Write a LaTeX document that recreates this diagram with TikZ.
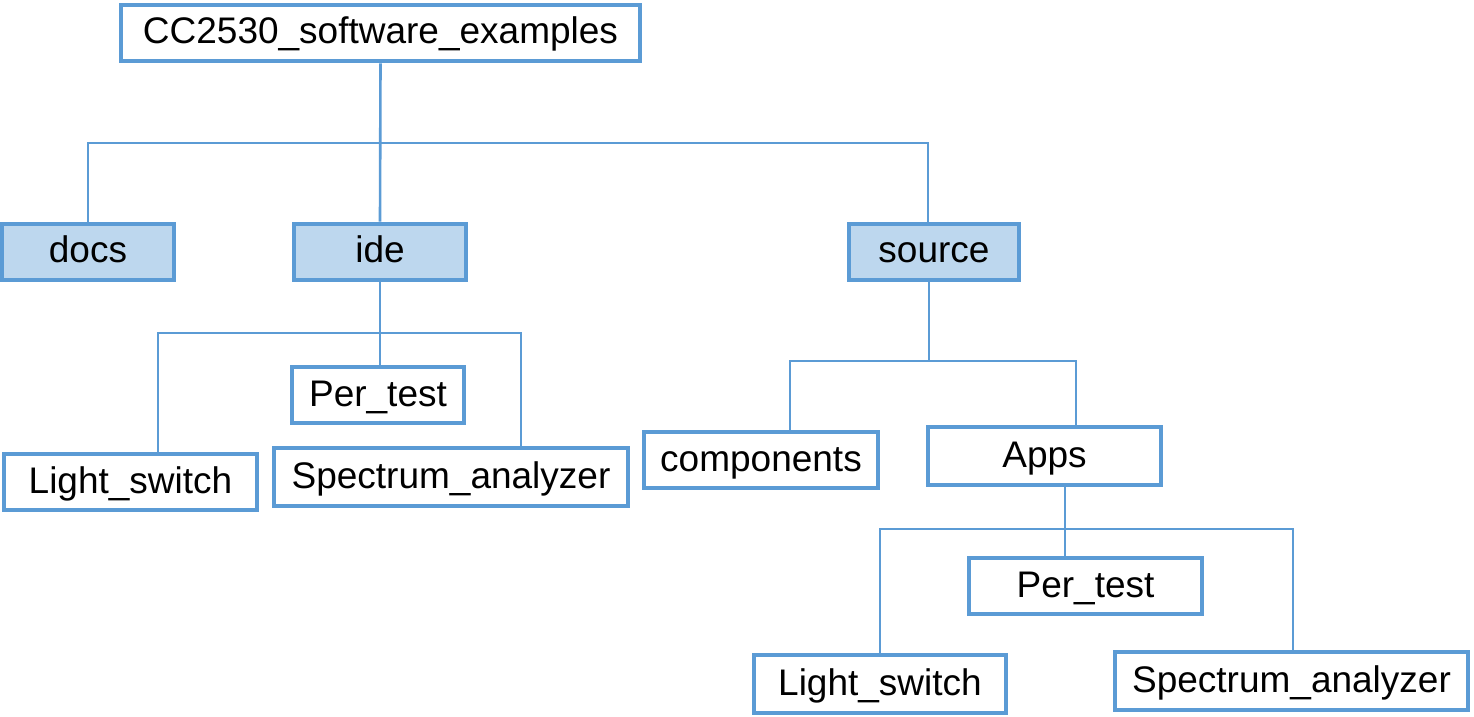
\documentclass[tikz,border=0pt]{standalone}
\usepackage{fontspec}
\setmainfont{Liberation Sans}
\usepackage{tikz}
\usetikzlibrary{positioning,calc}

\definecolor{boxblue}{HTML}{5B9BD5}
\definecolor{dirfill}{HTML}{BDD7EE}

\begin{document}
\begin{tikzpicture}[
    x=0.5pt, y=-0.5pt,
    folder/.style={draw=boxblue, line width=2.4pt, fill=white, inner sep=0pt,
        minimum height=28pt, text height=1.2em, text depth=0.1em,
        font=\fontsize{18.5pt}{22pt}\selectfont},
    topdir/.style={folder, fill=dirfill, minimum width=86pt},
    link/.style={draw=boxblue, line width=1.3pt}
]
\useasboundingbox (0,0) rectangle (1474,717);

% top level
\node[folder, minimum width=259.5pt] (root) at (380.5,33) {CC2530\_software\_examples};
\node[topdir] (docs) at (88,252) {docs};
\node[topdir] (ide) at (380,252) {ide};
\node[topdir, minimum width=85pt] (source) at (934,252) {source};

% ide
\node[folder, minimum width=86pt] (idePer) at (378,395) {Per\_test};
\node[folder, minimum width=126.5pt] (ideLight) at (130.5,482) {Light\_switch};
\node[folder, minimum width=177pt, minimum height=29pt] (ideSpec) at (451,477) {Spectrum\_analyzer};

% source
\node[folder, minimum width=117pt] (comp) at (761,460) {components};
\node[folder, minimum width=116.5pt, minimum height=29pt] (apps) at (1044.5,456) {Apps};

% Apps
\node[folder, minimum width=116.5pt] (appsPer) at (1085.5,586) {Per\_test};
\node[folder, minimum width=126pt, minimum height=29pt] (appsLight) at (880,684) {Light\_switch};
\node[folder, minimum width=176.5pt, minimum height=29pt] (appsSpec) at (1291.5,681) {Spectrum\_analyzer};

% bus corners
\coordinate (topBus) at (380,143);
\coordinate (ideBusL) at (158,333);
\coordinate (ideBusR) at (521,333);
\coordinate (srcBusL) at (790,361);
\coordinate (srcBusR) at (1076,361);
\coordinate (appsStem) at (1065,529);
\coordinate (appsBusL) at (880,529);
\coordinate (appsBusR) at (1293,529);

\draw[link] (root.south) -- (ide.north);
\draw[link] (docs.north) |- (topBus) -| ([xshift=-3pt]source.north);

\draw[link] (ide.south) -- (ide.south |- idePer.north);
\draw[link] (ideLight.north -| ideBusL) -- (ideBusL) -- (ideBusR) -- (ideSpec.north -| ideBusR);

\draw[link] ([xshift=-2.5pt]source.south) -- ([xshift=-2.5pt]source.south |- srcBusL);
\draw[link] (comp.north -| srcBusL) -- (srcBusL) -- (srcBusR) -- (apps.north -| srcBusR);

\draw[link] (apps.south -| appsStem) -- (appsPer.north -| appsStem);
\draw[link] (appsLight.north -| appsBusL) -- (appsBusL) -- (appsBusR) -- (appsSpec.north -| appsBusR);
\end{tikzpicture}
\end{document}
